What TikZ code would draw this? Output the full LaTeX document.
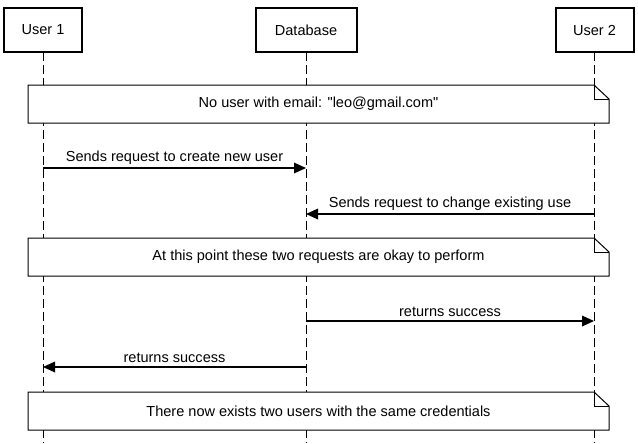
\documentclass[tikz,border=0pt]{standalone}
\usepackage{fontspec}
\setmainfont{Liberation Sans}
\usetikzlibrary{arrows.meta}

\tikzset{
  actor/.style={draw, line width=1.5pt, fill=white, minimum height=33pt, inner sep=0pt},
  lifeline/.style={line width=0.75pt, dash pattern=on 6.75pt off 3pt},
  note/.style={draw, line width=0.75pt, fill=white, line join=miter},
  msg/.style={line width=0.9pt, -{Triangle[length=9pt,width=8pt]}},
  msglabel/.style={midway, above, inner sep=2.5pt}
}

\begin{document}
\begin{tikzpicture}[x=0.75pt, y=-0.75pt, font=\fontsize{10.9}{13}\selectfont]
            \useasboundingbox (0,0) rectangle (638,443);
            % lifelines
            \draw[lifeline] (43,52) -- (43,443);
            \draw[lifeline] (306,52) -- (306,443);
            \draw[lifeline] (594,52) -- (594,443);
            % actors
            \node[actor, minimum width=58.5pt] (user1) at (43,30) {User 1};
            \node[actor, minimum width=75.75pt] (db) at (306,30) {Database};
            \node[actor, minimum width=58.5pt] (user2) at (594.5,30) {User 2};
            % notes
            \draw[note] (28,85) -- (594,85) -- (609,99) -- (609,123) -- (28,123) -- cycle;
            \draw[line width=0.75pt] (594,85) -- (594,99) -- (609,99);
            \node (note1) at (318.5,104) {No user with email: \textquotedbl leo@gmail.com\textquotedbl};
            \draw[note] (28,238) -- (594,238) -- (609,252) -- (609,276) -- (28,276) -- cycle;
            \draw[line width=0.75pt] (594,238) -- (594,252) -- (609,252);
            \node (note2) at (318.5,257) {At this point these two requests are okay to perform};
            \draw[note] (28,392) -- (594,392) -- (609,406) -- (609,430) -- (28,430) -- cycle;
            \draw[line width=0.75pt] (594,392) -- (594,406) -- (609,406);
            \node (note3) at (318.5,411) {There now exists two users with the same credentials};
            % messages
            \coordinate (u1a) at (43,168);
            \coordinate (dba) at (306,168);
            \coordinate (u2b) at (594,214);
            \coordinate (dbb) at (306,214);
            \coordinate (dbc) at (306,321);
            \coordinate (u2c) at (594,321);
            \coordinate (dbd) at (306,367);
            \coordinate (u1d) at (43,367);
            \draw[msg] (u1a) -- (dba) node[msglabel] {Sends request to create new user};
            \draw[msg] (u2b) -- (dbb) node[msglabel] {Sends request to change existing use};
            \draw[msg] (dbc) -- (u2c) node[msglabel] {returns success};
            \draw[msg] (dbd) -- (u1d) node[msglabel] {returns success};
        \end{tikzpicture}
\end{document}
